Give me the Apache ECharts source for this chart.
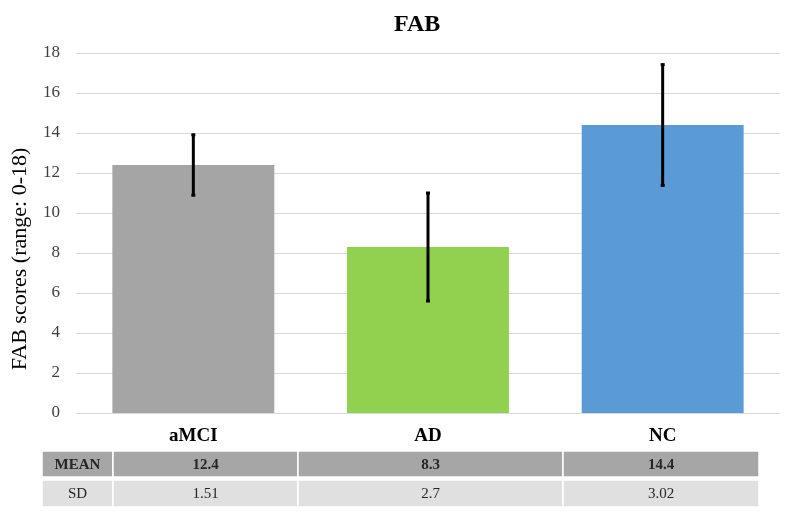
<!DOCTYPE html>
<html><head><meta charset="utf-8">
<script src="https://cdn.jsdelivr.net/npm/echarts@6/dist/echarts.min.js"></script>
<style>html,body{margin:0;padding:0;background:#fff}#c{width:793px;height:517px}</style>
</head><body><div id="c"></div>
<script>
const categories = ['aMCI', 'AD', 'NC'];
const means = [12.4, 8.3, 14.4];
const sds = [1.51, 2.7, 3.02];
const meanLabels = ['12.4', '8.3', '14.4'];
const sdLabels = ['1.51', '2.7', '3.02'];
const barColors = ['#a5a5a5', '#92d050', '#5b9bd5'];
const yTicks = [0, 2, 4, 6, 8, 10, 12, 14, 16, 18];
const yAxisTitle = 'FAB scores (range: 0-18)';

const serif = '"Liberation Serif","Times New Roman",serif';
const chart = echarts.init(document.getElementById('c'), null, {renderer: 'canvas'});

// table geometry
const colX = [42, 113, 298, 563, 759];
const rowY = [451, 477, 480, 507];
const graphics = [];
function cell(x0, x1, y0, y1, fill, text, bold) {
  graphics.push({type: 'rect', shape: {x: x0, y: y0, width: x1 - x0, height: y1 - y0},
    style: {fill: fill, stroke: '#ffffff', lineWidth: 1.5}, silent: true});
  graphics.push({type: 'text', x: (x0 + x1) / 2, y: (y0 + y1) / 2 + 1,
    style: {text: text, font: (bold ? 'bold ' : '') + '15px ' + serif, fill: '#262626',
      align: 'center', verticalAlign: 'middle'}, silent: true});
}
cell(colX[0], colX[1], rowY[0], rowY[1], '#a6a6a6', 'MEAN', true);
cell(colX[0], colX[1], rowY[2], rowY[3], '#e0e0e0', 'SD', false);
for (let i = 0; i < categories.length; i++) {
  cell(colX[i + 1], colX[i + 2], rowY[0], rowY[1], '#a6a6a6', meanLabels[i], true);
  cell(colX[i + 1], colX[i + 2], rowY[2], rowY[3], '#e0e0e0', sdLabels[i], false);
}
graphics.push({type: 'text', x: 20, y: 259, rotation: Math.PI / 2,
  style: {text: yAxisTitle, font: '22px ' + serif, fill: '#000', align: 'center', verticalAlign: 'middle'},
  silent: true});

chart.setOption({
  animation: false,
  title: {text: 'FAB', left: 389, top: 8,
    textStyle: {fontFamily: serif, fontWeight: 'bold', fontSize: 24, color: '#000'}},
  grid: {left: 76, right: 13, top: 53, bottom: 104},
  xAxis: {type: 'category', data: categories,
    axisLine: {show: true, lineStyle: {color: '#d9d9d9'}}, axisTick: {show: false},
    axisLabel: {fontFamily: serif, fontWeight: 'bold', fontSize: 19, color: '#000', margin: 14}},
  yAxis: {type: 'value', min: 0, max: 18, interval: 2,
    axisLine: {show: false}, axisTick: {show: false},
    axisLabel: {fontFamily: serif, fontSize: 17, color: '#404040', margin: 16,
      formatter: v => yTicks.includes(v) ? String(v) : ''},
    splitLine: {lineStyle: {color: '#d9d9d9', width: 1}}},
  series: [
    {type: 'bar', barWidth: '69%',
      data: means.map((v, i) => ({value: v, itemStyle: {color: barColors[i]}}))},
    {type: 'custom', z: 10,
      data: means.map((m, i) => [i, m - sds[i], m + sds[i]]),
      renderItem: function (params, api) {
        const lo = api.coord([api.value(0), api.value(1)]);
        const hi = api.coord([api.value(0), api.value(2)]);
        const cw = 2;
        const st = {stroke: '#000', lineWidth: 3};
        return {type: 'group', children: [
          {type: 'line', shape: {x1: lo[0], y1: lo[1], x2: hi[0], y2: hi[1]}, style: st},
          {type: 'line', shape: {x1: lo[0] - cw, y1: lo[1], x2: lo[0] + cw, y2: lo[1]}, style: st},
          {type: 'line', shape: {x1: hi[0] - cw, y1: hi[1], x2: hi[0] + cw, y2: hi[1]}, style: st}
        ]};
      }}
  ],
  graphic: graphics
});
</script></body></html>
